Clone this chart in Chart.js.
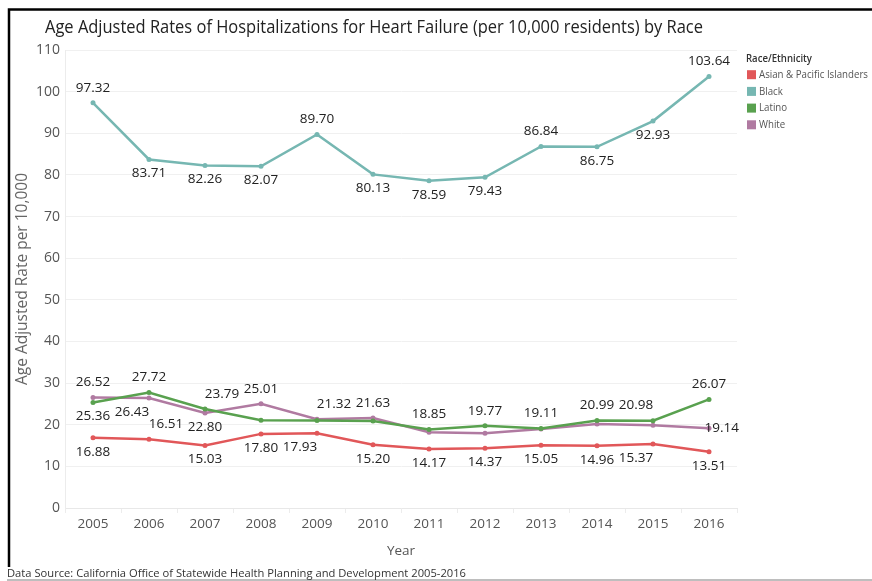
<!DOCTYPE html>
<html>
<head>
<meta charset="utf-8">
<title>Heart Failure Hospitalizations by Race</title>
<script src="https://cdn.jsdelivr.net/npm/chart.js@4.4.1/dist/chart.umd.min.js"></script>
<style>
  html, body { margin: 0; padding: 0; background: #fff; }
  canvas { display: block; }
</style>
</head>
<body>
<canvas id="myChart" width="872" height="581"></canvas>
<script>
// age adjusted rates per 10,000 residents
const years = ['2005', '2006', '2007', '2008', '2009', '2010', '2011', '2012', '2013', '2014', '2015', '2016'];
const asian = [16.88, 16.51, 15.03, 17.80, 17.93, 15.20, 14.17, 14.37, 15.05, 14.96, 15.37, 13.51];
const black = [97.32, 83.71, 82.26, 82.07, 89.70, 80.13, 78.59, 79.43, 86.84, 86.75, 92.93, 103.64];
const latino = [25.36, 27.72, 23.79, 21.10, 21.00, 20.90, 18.85, 19.77, 19.11, 20.99, 20.98, 26.07];
const white = [26.52, 26.43, 22.80, 25.01, 21.32, 21.63, 18.20, 17.95, 19.00, 20.20, 19.90, 19.14];
const yTicks = [0, 10, 20, 30, 40, 50, 60, 70, 80, 90, 100, 110];

const seriesNames = ['Asian & Pacific Islanders', 'Black', 'Latino', 'White'];
const seriesColors = ['#e15759', '#76b7b2', '#59a14f', '#b07aa1'];

// where each value label goes around its point, null = not labelled
const asianLabels = ['s', 'ne', 's', 's', 'sw', 's', 's', 's', 's', 's', 'sw', 's'];
const blackLabels = ['n', 's', 's', 's', 'n', 's', 's', 's', 'n', 's', 's', 'n'];
const latinoLabels = ['s', 'n', 'ne', null, null, null, 'n', 'n', 'n', 'n', 'nw', 'n'];
const whiteLabels = ['n', 'sw', 's', 'n', 'ne', 'n', null, null, null, null, null, 'e'];

const labelOffsets = {
  n: [0, -15], s: [0, 14], ne: [17, -15], nw: [-17, -15],
  se: [17, 14], sw: [-17, 14], e: [17, 0]
};

const FONT = '"Open Sans", "Noto Sans", sans-serif';

function condensedText(ctx, text, x, y, k) {
  ctx.save();
  ctx.translate(x, y);
  ctx.scale(k, 1);
  ctx.fillText(text, 0, 0);
  ctx.restore();
}

function fitText(ctx, text, x, y, width) {
  const k = Math.min(1, width / ctx.measureText(text).width);
  condensedText(ctx, text, x, y, k);
}

const valueLabels = {
  id: 'valueLabels',
  afterDatasetsDraw(chart) {
    const ctx = chart.ctx;
    const area = chart.chartArea;
    ctx.save();
    ctx.font = '13.5px ' + FONT;
    ctx.fillStyle = '#222';
    ctx.textAlign = 'center';
    ctx.textBaseline = 'middle';
    chart.data.datasets.forEach((ds, di) => {
      const meta = chart.getDatasetMeta(di);
      meta.data.forEach((pt, i) => {
        const pos = ds.labelPos[i];
        if (!pos) return;
        const txt = ds.data[i].toFixed(2);
        const w = ctx.measureText(txt).width;
        const off = labelOffsets[pos];
        let x = pt.x + off[0];
        x = Math.max(area.left + w / 2, Math.min(area.right - w / 2 + 2, x));
        ctx.fillText(txt, x, pt.y + off[1]);
      });
    });
    ctx.restore();
  }
};

// title, legend, source note and the sheet frame
const decorations = {
  id: 'decorations',
  afterDraw(chart) {
    const ctx = chart.ctx;
    ctx.save();

    ctx.strokeStyle = '#000';
    ctx.lineWidth = 2.5;
    ctx.beginPath();
    ctx.moveTo(9, 567);
    ctx.lineTo(9, 9.5);
    ctx.lineTo(872, 9.5);
    ctx.stroke();

    ctx.strokeStyle = '#a8a8a8';
    ctx.lineWidth = 1.5;
    ctx.beginPath();
    ctx.moveTo(7, 580);
    ctx.lineTo(872, 580);
    ctx.stroke();

    ctx.textAlign = 'left';
    ctx.textBaseline = 'alphabetic';
    ctx.fillStyle = '#222';
    ctx.font = '19px ' + FONT;
    fitText(ctx, 'Age Adjusted Rates of Hospitalizations for Heart Failure (per 10,000 residents) by Race', 45, 33, 658);

    ctx.font = '11.5px ' + FONT;
    ctx.fillStyle = '#333';
    fitText(ctx, 'Data Source: California Office of Statewide Health Planning and Development 2005-2016', 7, 577, 459);

    // legend
    ctx.font = '600 11.5px ' + FONT;
    ctx.fillStyle = '#333';
    ctx.textBaseline = 'middle';
    fitText(ctx, 'Race/Ethnicity', 746, 59, 66);
    ctx.font = '11.5px ' + FONT;
    const k = Math.min(1, 109 / ctx.measureText(seriesNames[0]).width);
    seriesNames.forEach((name, i) => {
      const cy = 74.7 + i * 16.7;
      ctx.fillStyle = seriesColors[i];
      ctx.fillRect(747, cy - 4.5, 9, 9);
      ctx.fillStyle = '#555';
      condensedText(ctx, name, 759, cy, k);
    });

    ctx.restore();
  }
};

const seriesData = [asian, black, latino, white];
const seriesLabels = [asianLabels, blackLabels, latinoLabels, whiteLabels];

const ctx = document.getElementById('myChart');

new Chart(ctx, {
  type: 'line',
  data: {
    labels: years,
    datasets: seriesNames.map((name, i) => ({
      label: name,
      data: seriesData[i],
      labelPos: seriesLabels[i],
      borderColor: seriesColors[i],
      backgroundColor: seriesColors[i],
      borderWidth: 2.5,
      pointRadius: 2.5,
      pointHoverRadius: 2.5,
      pointBorderWidth: 0,
      tension: 0
    }))
  },
  options: {
    responsive: false,
    animation: false,
    events: [],
    layout: { padding: { top: 50, left: 10, right: 135, bottom: 0 } },
    plugins: {
      legend: { display: false },
      title: { display: false },
      tooltip: { enabled: false }
    },
    scales: {
      x: {
        offset: true,
        grid: {
          offset: true,
          drawOnChartArea: false,
          drawTicks: true,
          tickLength: 5,
          tickColor: '#ececec'
        },
        border: { display: true, color: '#e8e8e8' },
        ticks: {
          color: '#555',
          padding: 3,
          font: { family: FONT, size: 13.5 },
          maxRotation: 0
        },
        title: {
          display: true,
          text: 'Year',
          color: '#555',
          font: { family: FONT, size: 13.5 },
          padding: { top: 0, bottom: 22 }
        },
        afterFit(scale) { scale.height = 73; }
      },
      y: {
        min: yTicks[0],
        max: yTicks[yTicks.length - 1],
        grid: { color: '#f0f0f0', drawTicks: false },
        border: { display: true, color: '#ececec' },
        ticks: {
          stepSize: yTicks[1] - yTicks[0],
          color: '#555',
          padding: 5,
          font: { family: FONT, size: 14 }
        },
        title: {
          display: true,
          text: 'Age Adjusted Rate per 10,000',
          color: '#666',
          font: { family: FONT, size: 15.5 },
          padding: { top: 3, bottom: 0 }
        },
        afterFit(scale) { scale.width = 55; }
      }
    }
  },
  plugins: [valueLabels, decorations]
});
</script>
</body>
</html>
